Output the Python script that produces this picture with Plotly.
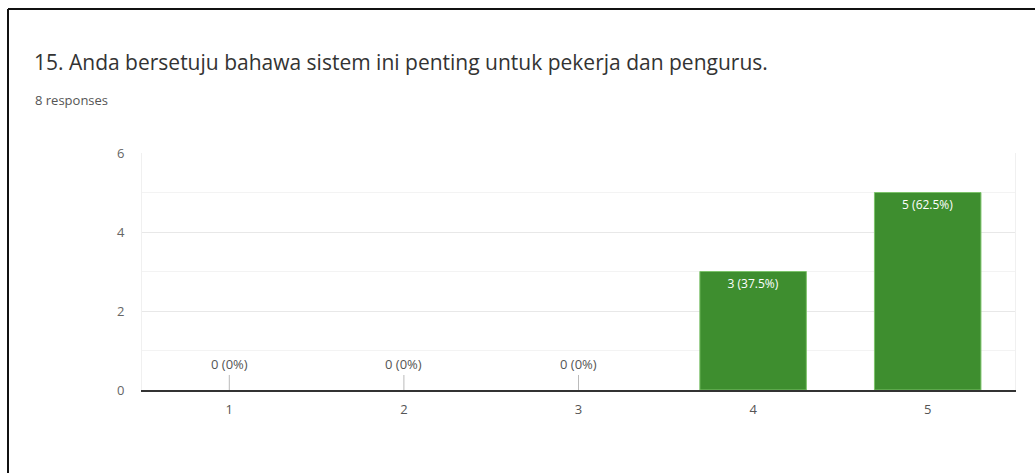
import plotly.graph_objects as go

categories = ["1", "2", "3", "4", "5"]
counts = [0, 0, 0, 3, 5]
total = 8
title_text = "15. Anda bersetuju bahawa sistem ini penting untuk pekerja dan pengurus."
subtitle_text = "8 responses"
y_ticks = [0, 2, 4, 6]

labels = [f"{c} ({c / total * 100:g}%)" for c in counts]

W, H = 1035, 473
L, R, T, B = 142, 20, 153, 83
pw, ph = W - L - R, H - T - B
FONT = "Open Sans"

def px_x(p):
    return (p - L) / pw

def px_y(p):
    return (H - B - p) / ph

fig = go.Figure()
fig.add_trace(go.Bar(
    x=categories,
    y=counts,
    text=[lab if c > 0 else "" for lab, c in zip(labels, counts)],
    textposition="inside",
    insidetextanchor="end",
    textfont=dict(color="#ffffff", size=12, family=FONT),
    marker=dict(color="#3e8e2f",
                line=dict(color="#7cc36a", width=[1 if c > 0 else 0 for c in counts])),
    hoverinfo="skip",
))

shapes = []
annotations = []
for i, (c, lab) in enumerate(zip(counts, labels)):
    if c == 0:
        shapes.append(dict(type="line", xref="x", yref="y", x0=i, x1=i,
                           y0=0, y1=0.38, line=dict(color="#bbbbbb", width=1)))
        annotations.append(dict(x=i, y=0, xref="x", yref="y", text=lab,
                                showarrow=False, yanchor="bottom", yshift=15,
                                font=dict(color="#555555", size=13, family=FONT)))

# minor gridlines
for v in [1, 3, 5]:
    shapes.append(dict(type="line", xref="paper", yref="y", x0=0, x1=1, y0=v, y1=v,
                       line=dict(color="#f3f3f3", width=1), layer="below"))

# image frame (left and top edge)
shapes.append(dict(type="line", xref="paper", yref="paper", x0=px_x(8), x1=px_x(8),
                   y0=px_y(9), y1=px_y(H + 10), line=dict(color="#111111", width=2)))
shapes.append(dict(type="line", xref="paper", yref="paper", x0=px_x(8), x1=px_x(W + 10),
                   y0=px_y(9), y1=px_y(9), line=dict(color="#111111", width=2)))

annotations.append(dict(x=px_x(32), y=px_y(62), xref="paper", yref="paper", text=title_text,
                        showarrow=False, xanchor="left", yanchor="middle",
                        font=dict(size=21, color="#333333", family=FONT)))
annotations.append(dict(x=px_x(33), y=px_y(100), xref="paper", yref="paper", text=subtitle_text,
                        showarrow=False, xanchor="left", yanchor="middle",
                        font=dict(size=13, color="#555555", family=FONT)))

fig.update_layout(
    width=W, height=H,
    margin=dict(l=L, r=R, t=T, b=B, pad=0),
    paper_bgcolor="white", plot_bgcolor="white",
    bargap=0.39,
    showlegend=False,
    shapes=shapes,
    annotations=annotations,
    font=dict(family=FONT, color="#666666", size=13),
    xaxis=dict(type="category", showgrid=False, showline=True, linecolor="#333333",
               linewidth=1.5, ticks="", tickfont=dict(size=13, color="#555555"),
               ticklabelstandoff=7, range=[-0.5, 4.5], fixedrange=True),
    yaxis=dict(range=[0, 6], tickvals=y_ticks, showgrid=True, gridcolor="#e8e8e8",
               zeroline=False, showline=True, linecolor="#f0f0f0", mirror=True,
               tickfont=dict(size=13, color="#666666"), ticklabelstandoff=14,
               fixedrange=True),
)

fig.write_html("out.html", config={"displayModeBar": False},
               post_script="document.body.style.margin='0';document.body.style.overflow='hidden';")
